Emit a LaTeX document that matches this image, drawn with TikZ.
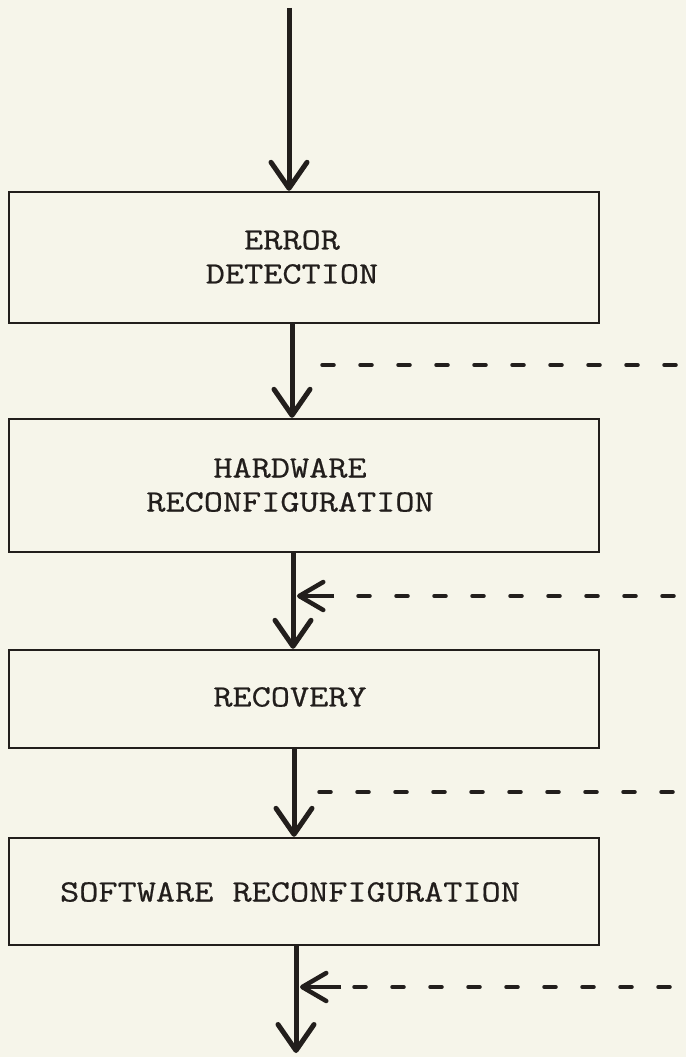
\documentclass[tikz,border=0pt]{standalone}
\usepackage{fontspec}
\setmonofont[FakeStretch=1.2,FakeBold=0.6]{Latin Modern Mono}
\usetikzlibrary{arrows.meta}
\definecolor{paper}{RGB}{246,245,234}
\definecolor{ink}{RGB}{34,30,28}
\begin{document}
\begin{tikzpicture}[x=1pt,y=-1pt,
  box/.style={draw=ink, line width=2.4pt, minimum width=590pt, inner sep=0pt},
  boxtext/.style={text=ink, align=center, inner sep=0pt,
    font=\fontsize{31}{34}\selectfont\ttfamily},
  flow/.style={draw=ink, line width=5pt,
    -{Straight Barb[length=26pt,width=36pt,line width=5pt,round]}},
  fbdash/.style={draw=ink, line width=3.5pt, line cap=round, dash pattern=on 12pt off 26pt},
  fbtip/.style={draw=ink, line width=4pt,
    -{Straight Barb[length=24pt,width=28pt,line width=4.5pt,round]}}]
  % page
  \fill[paper] (0,0) rectangle (686,1057);
  \useasboundingbox (0,0) rectangle (686,1057);

  % process stages
  \node[box, minimum height=131pt] (det) at (304,257.5) {};
  \node[box, minimum height=133pt] (hw)  at (304,485.5) {};
  \node[box, minimum height=98pt]  (rec) at (304,699) {};
  \node[box, minimum height=107pt] (sw)  at (304,891.5) {};

  \node[boxtext] (detT) at (292,257) {ERROR\\DETECTION};
  \node[boxtext] (hwT)  at (290,485) {HARDWARE\\RECONFIGURATION};
  \node[boxtext] (recT) at (290,697) {RECOVERY};
  \node[boxtext] (swT)  at (290,892) {SOFTWARE RECONFIGURATION};

  % main flow
  \coordinate (in)  at (289,8);
  \coordinate (c1)  at (292,0);
  \coordinate (c2)  at (293,0);
  \coordinate (c3)  at (294,0);
  \coordinate (out) at (296,1053);
  \draw[flow] (in) -- (in |- det.north);
  \draw[flow] (det.south -| c1) -- (hw.north -| c1);
  \draw[flow] (hw.south -| c2) -- (rec.north -| c2);
  \draw[flow] (rec.south -| c3) -- (sw.north -| c3);
  \draw[flow] (sw.south -| out) -- (out);

  % side paths
  \coordinate (f1a) at (322,365);  \coordinate (f1b) at (686,365);
  \draw[fbdash] (f1a) -- (f1b);

  \coordinate (f2a) at (358,596);  \coordinate (f2b) at (686,596);
  \coordinate (f2s) at (334,596);  \coordinate (f2t) at (297,596);
  \draw[fbdash] (f2a) -- (f2b);
  \draw[fbtip] (f2s) -- (f2t);

  \coordinate (f3a) at (319,792);  \coordinate (f3b) at (686,792);
  \draw[fbdash] (f3a) -- (f3b);

  \coordinate (f4a) at (354,987);  \coordinate (f4b) at (686,987);
  \coordinate (f4s) at (341,987);  \coordinate (f4t) at (300,987);
  \draw[fbdash] (f4a) -- (f4b);
  \draw[fbtip] (f4s) -- (f4t);
\end{tikzpicture}
\end{document}
